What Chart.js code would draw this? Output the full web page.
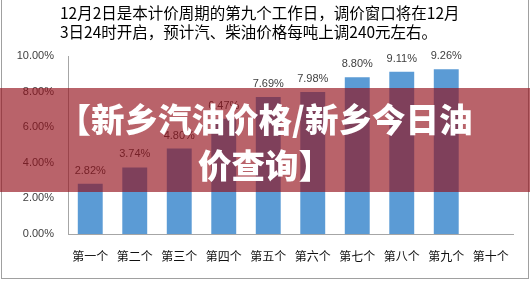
<!DOCTYPE html>
<html>
<head>
<meta charset="utf-8">
<script src="https://cdn.jsdelivr.net/npm/chart.js@4"></script>
<style>
  html, body { margin: 0; padding: 0; background: #fff; }
  #wrap { position: relative; width: 530px; height: 281px; overflow: hidden; }
  #frame { position: absolute; left: 1px; top: -1px; width: 526px; height: 278px; border: 1px solid #a0a0a0; }
  #title { position: absolute; left: 60px; top: 3px; font: 15.5px "Noto Sans CJK SC", sans-serif; line-height: 19px; color: #000; white-space: nowrap; }
  #banner { position: absolute; left: 0; top: 88px; width: 530px; height: 104px; background: rgba(147, 15, 26, 0.65);
            color: #fff; font: 900 33.5px "Noto Sans CJK SC", sans-serif; line-height: 46px; text-align: center;
            padding-top: 7px; box-sizing: border-box; }
</style>
</head>
<body>
<div id="wrap">
  <canvas id="chartCanvas" width="530" height="281"></canvas>
  <div id="frame"></div>
  <div id="title">12月2日是本计价周期的第九个工作日，调价窗口将在12月<br>3日24时开启，预计汽、柴油价格每吨上调240元左右。</div>
  <div id="banner">【新乡汽油价格/新乡今日油<br>价查询】</div>
</div>
<script>
// ======== DỮ LIỆU ========
const categories = ["第一个", "第二个", "第三个", "第四个", "第五个", "第六个", "第七个", "第八个", "第九个", "第十个"];
const rates = [2.82, 3.74, 4.80, 6.47, 7.69, 7.98, 8.80, 9.11, 9.26, null];
const yTicks = [0, 2, 4, 6, 8, 10];

// Nhãn giá trị phía trên mỗi cột
const barLabels = {
  id: "barLabels",
  afterDatasetsDraw(chart) {
    const ctx = chart.ctx;
    const meta = chart.getDatasetMeta(0);
    ctx.save();
    ctx.font = "11px 'Liberation Sans', Arial, sans-serif";
    ctx.fillStyle = "#404040";
    ctx.textAlign = "center";
    ctx.textBaseline = "middle";
    meta.data.forEach((bar, i) => {
      if (rates[i] == null) return;
      ctx.fillText(rates[i].toFixed(2) + "%", bar.x, bar.y - 13);
    });
    ctx.restore();
  }
};

const ctx = document.getElementById("chartCanvas").getContext("2d");
new Chart(ctx, {
  type: "bar",
  data: {
    labels: categories,
    datasets: [{
      data: rates,
      backgroundColor: "#5b9bd5",
      categoryPercentage: 1,
      barPercentage: 0.56
    }]
  },
  options: {
    responsive: false,
    animation: false,
    layout: { padding: { top: 56, right: 17, left: 0, bottom: 0 } },
    plugins: { legend: { display: false }, tooltip: { enabled: false } },
    scales: {
      x: {
        grid: { display: false, drawTicks: false },
        border: { display: true, color: "#a6a6a6", width: 1 },
        ticks: { color: "#111", font: { family: "'Noto Sans CJK SC'", size: 12 }, padding: 15, maxRotation: 0, autoSkip: false },
        afterFit: (s) => { s.height = 281 - 234; }
      },
      y: {
        min: 0,
        max: 10,
        afterBuildTicks: (s) => { s.ticks = yTicks.map(v => ({ value: v })); },
        grid: { display: false, drawTicks: false },
        border: { display: true, color: "#a6a6a6", width: 1 },
        ticks: { color: "#404040", font: { family: "'Liberation Sans', Arial", size: 11 }, padding: 14,
                 callback: (v) => v.toFixed(2) + "%" },
        afterFit: (s) => { s.width = 68; }
      }
    }
  },
  plugins: [barLabels]
});
</script>
</body>
</html>
